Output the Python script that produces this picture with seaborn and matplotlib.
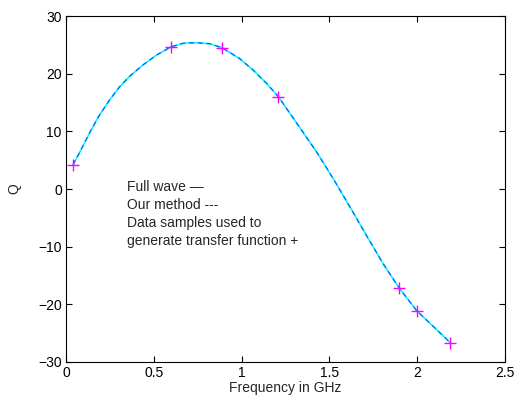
import matplotlib
matplotlib.use("Agg")
import matplotlib.pyplot as plt
import seaborn as sns
import pandas as pd

# Curve (frequency in GHz, Q)
freq = [0.04, 0.085, 0.142, 0.19, 0.247, 0.304, 0.36, 0.437, 0.513, 0.60,
        0.67, 0.744, 0.82, 0.89, 0.99, 1.067, 1.143, 1.21, 1.276, 1.351,
        1.43, 1.522, 1.617, 1.712, 1.807, 1.898, 1.997, 2.19]
q_full = [4.2, 6.8, 10.2, 12.8, 15.4, 17.7, 19.5, 21.5, 23.2, 24.7,
          25.3, 25.4, 25.2, 24.5, 22.6, 20.6, 18.3, 16.0, 13.1, 9.8,
          6.3, 1.8, -3.1, -8.1, -13.0, -17.2, -21.1, -26.7]
q_ours = [4.2, 6.8, 10.2, 12.8, 15.4, 17.7, 19.5, 21.5, 23.2, 24.7,
          25.3, 25.4, 25.2, 24.5, 22.6, 20.6, 18.3, 16.0, 13.1, 9.8,
          6.3, 1.8, -3.1, -8.1, -13.0, -17.2, -21.1, -26.7]

# Data samples used to generate transfer function
sample_freq = [0.04, 0.60, 0.89, 1.21, 1.898, 1.997, 2.19]
sample_q = [4.2, 24.7, 24.5, 16.0, -17.2, -21.1, -26.7]

x_ticks = [0, 0.5, 1, 1.5, 2, 2.5]
y_ticks = [-30, -20, -10, 0, 10, 20, 30]

sns.set_style("white")
plt.rcParams['font.family'] = ['Liberation Sans', 'DejaVu Sans']
plt.rcParams['axes.unicode_minus'] = True

fig = plt.figure(figsize=(5.2, 4.03), dpi=100)
ax = fig.add_axes([0.127, 0.102, 0.844, 0.858])

df_full = pd.DataFrame({"f": freq, "q": q_full})
df_ours = pd.DataFrame({"f": freq, "q": q_ours})
df_s = pd.DataFrame({"f": sample_freq, "q": sample_q})

sns.lineplot(data=df_full, x="f", y="q", sort=False, ax=ax, color="#00ffff", linewidth=1.2)
sns.lineplot(data=df_ours, x="f", y="q", sort=False, ax=ax, color="#2020ff", linewidth=0.9,
             linestyle=(0, (4, 3)), alpha=0.75)
ax.plot(df_s["f"], df_s["q"], linestyle="none", marker="+", color="#ff00ff",
        markersize=8, markeredgewidth=1.0)

ax.set_xlim(0, 2.5)
ax.set_ylim(-30, 30)
ax.set_xticks(x_ticks)
ax.set_yticks(y_ticks)
ax.set_xticklabels(["0", "0.5", "1", "1.5", "2", "2.5"])
ax.set_yticklabels(["\u221230", "\u221220", "\u221210", "0", "10", "20", "30"])
ax.tick_params(direction="in", length=4, width=0.8, top=True, right=True,
               bottom=True, left=True, labelsize=10, pad=3, colors="black")
for s in ax.spines.values():
    s.set_visible(True)
    s.set_color("black")
    s.set_linewidth(0.8)

ax.set_xlabel("Frequency in GHz", fontsize=10, labelpad=1)
ax.set_ylabel("Q", fontsize=10, labelpad=12)

ax.text(0.35, 1.5, "Full wave \u2014\nOur method ---\nData samples used to\ngenerate transfer function +",
        fontsize=10, va="top", ha="left", linespacing=1.35)

fig.savefig("out.png", dpi=100)
